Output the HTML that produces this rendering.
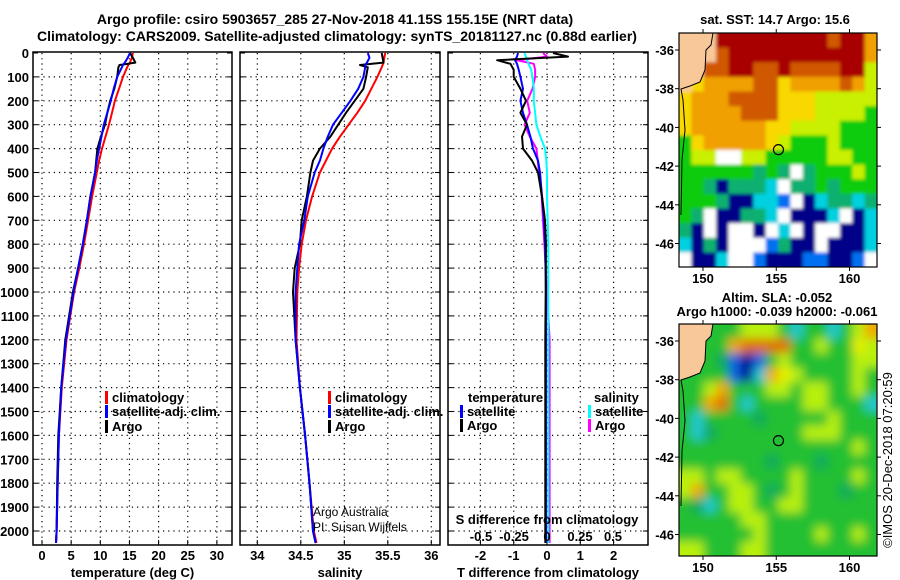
<!DOCTYPE html>
<html><head><meta charset="utf-8"><style>
html,body{margin:0;padding:0;background:#fff;width:900px;height:580px;overflow:hidden}
svg{display:block;font-family:"Liberation Sans",Arial,sans-serif}
.b{font-weight:bold;font-size:13px}
.t{font-weight:bold;font-size:14px}
</style></head><body>
<svg id="chart" width="900" height="580" viewBox="0 0 900 580" xmlns="http://www.w3.org/2000/svg">
<defs>
<filter id="blur" x="-5%" y="-5%" width="110%" height="110%"><feGaussianBlur stdDeviation="5"/></filter>
<filter id="blur2" x="-5%" y="-5%" width="110%" height="110%"><feGaussianBlur stdDeviation="1.5"/></filter>
<clipPath id="clipTop"><rect x="679" y="33" width="198" height="234"/></clipPath>
<clipPath id="clipBot"><rect x="679" y="324" width="198" height="232"/></clipPath>
</defs>
<text class="t" x="335" y="24" text-anchor="middle">Argo profile: csiro 5903657_285 27-Nov-2018 41.15S 155.15E (NRT data)</text>
<text class="t" x="337" y="41" text-anchor="middle">Climatology: CARS2009. Satellite-adjusted climatology: synTS_20181127.nc (0.88d earlier)</text>
<g id="g"></g>
</svg>
<script>
const depths = [0,20,40,50,60,100,150,200,250,300,350,400,450,500,600,700,800,900,1000,1200,1400,1600,1800,2000,2050];
const tClim = [15.6,15.4,15.1,14.8,14.6,13.9,13.2,12.5,12.0,11.5,10.9,10.3,9.8,9.4,8.6,7.9,7.2,6.4,5.5,4.2,3.4,2.9,2.7,2.5,2.4];
const tSat = [15.1,14.7,14.2,13.9,13.7,12.9,12.3,11.8,11.2,10.6,10.2,9.8,9.4,9.1,8.3,7.7,7.0,6.2,5.4,4.1,3.3,2.9,2.7,2.5,2.4];
const tArgo = [15.1,15.6,16.0,13.3,13.1,12.9,12.4,11.7,11.2,10.8,10.1,9.5,9.3,9.1,8.3,7.7,7.0,6.2,5.3,4.0,3.3,2.8,2.6,2.5,2.4];
const sClim = [35.47,35.46,35.45,35.44,35.43,35.38,35.31,35.24,35.15,35.05,34.95,34.86,34.79,34.72,34.63,34.56,34.51,34.48,34.46,34.45,34.49,34.55,34.6,34.65,34.68];
const sSat = [35.27,35.29,35.26,35.24,35.24,35.22,35.16,35.07,34.97,34.87,34.81,34.76,34.72,34.66,34.58,34.54,34.48,34.46,34.44,34.44,34.49,34.55,34.6,34.64,34.67];
const sArgo = [35.43,35.44,35.45,35.18,35.27,35.25,35.22,35.12,35.02,34.93,34.84,34.72,34.64,34.61,34.57,34.51,34.49,34.43,34.41,34.44,34.49,34.55,34.6,34.64,34.67];
const dDepth = [0,15,30,45,70,100,150,200,250,300,350,400,450,500,550,600,700,800,1000,1200,1600,2050];
const tdArgo = [0.18,0.63,-1.5,-1.1,-1.0,-1.0,-0.8,-0.63,-0.8,-0.6,-0.75,-0.72,-0.45,-0.27,-0.21,-0.15,-0.06,-0.03,-0.04,-0.05,-0.05,-0.05];
const tdSat = [-0.87,-0.9,-0.96,-0.9,-0.85,-0.8,-0.72,-0.8,-0.72,-0.6,-0.5,-0.42,-0.27,-0.21,-0.18,-0.15,-0.09,-0.06,-0.03,-0.03,-0.03,-0.03];
const sdArgo = [-0.03,0.0,-0.23,-0.1,-0.09,-0.09,-0.11,-0.15,-0.13,-0.17,-0.13,-0.08,-0.07,-0.06,-0.05,-0.04,-0.03,-0.02,0.0,0.02,0.02,0.02];
const sdSat = [-0.17,-0.16,-0.15,-0.14,-0.12,-0.11,-0.1,-0.1,-0.09,-0.08,-0.05,-0.015,-0.005,0,0,0,0.005,0.01,0.01,0.01,0.01,0.01];
const depthTicks = [0,100,200,300,400,500,600,700,800,900,1000,1100,1200,1300,1400,1500,1600,1700,1800,1900,2000];
const tTicks = [0,5,10,15,20,25,30];
const sTicks = [34,34.5,35,35.5,36];
const tdTicks = [-2,-1,0,1,2];
const sdTicks = [-0.5,-0.25,0,0.25,0.5];
const sdTickLabels = ['-0.5','-0.25','0','0.25','0.5'];
const latTicks = [-36,-38,-40,-42,-44,-46];
const lonTicks = [150,155,160];
const sstGrid = ["LLLRRRRRRRRRORRo","LLLORRRRRRRRRRRo","LLOORROOROOOORRy","LYooooOOYooooOoy","YoooOOOOYYYyyyyy","YooooOOOYYYyyyyG","YooooooYYyyyyGGG","GYoooooYyGGGyGGG","GyyWWyyGGGGGyyGG","GGGGGGgGgWgGGGyG","GGgNgggcWggGgGGG","GGGgNNccbWNcggcg","GgWNNggcWNNNcWNc","gNWNWWNWcWNWWNNc","cNgNWWWbgNNWNNNc","WNNcWWbNNNbbNNbW"];
const slaGrid = ["LLLGGyyyGcGGcGyo","LLLGoOOOOGGyGGYy","LLGgbNbGyGGGGGyy","LGGGbNcoYyGGGGyG","GGyoGGGyyGyyGGyG","GGoOGcGGGGyyGGGc","GcGGGGgGGGGGyGGG","GcgGGGGGGGyyyGGG","GGGGGGGGGGGGGGyG","GGGGGGGgGGGgGGGG","yyGyyGGGGyGGGGyG","yoGGyyGgGyGGGgGG","GgcGyyGGyyGGGGGG","GGGGGyyGGGGGGGGG","GGGGGGyGGGGyGGyG","yyGGGyyGGGGGGGGG"];
const argoLon = 155.15, argoLat = -41.15;

const NS='http://www.w3.org/2000/svg';
const G=document.getElementById('g');
function el(tag,attrs,parent){const e=document.createElementNS(NS,tag);for(const k in attrs)e.setAttribute(k,attrs[k]);(parent||G).appendChild(e);return e;}
function txt(x,y,s,cls,anchor,parent){const e=el('text',{x:x,y:y,'text-anchor':anchor||'middle'},parent);if(cls)e.setAttribute('class',cls);e.textContent=s;return e;}

const TOP=53, BOT=545;
const yD=d=>TOP+d*0.239;
const panels=[
 {x0:33,x1:232,sx:v=>42+v*5.83,ticks:tTicks,labels:tTicks.map(String),title:'temperature (deg C)',name:'temperature-panel'},
 {x0:240,x1:440,sx:v=>257.3+(v-34)*87,ticks:sTicks,labels:['34','34.5','35','35.5','36'],title:'salinity',name:'salinity-panel'},
 {x0:448,x1:648,sx:v=>547+v*33.3,ticks:tdTicks,labels:tdTicks.map(String),title:'T difference from climatology',name:'difference-panel'}
];
const sdx=v=>547+v*132;
panels.forEach((p,pi)=>{
  const g=el('g',{});
  
  
  depthTicks.forEach(d=>{
    const y=yD(d);
    if(d>0) el('line',{x1:p.x0,x2:p.x1,y1:y,y2:y,stroke:'#000','stroke-dasharray':'1.2,4','stroke-width':1.2},g);
    el('line',{x1:p.x0,x2:p.x0+5,y1:y,y2:y,stroke:'#000'},g);
    el('line',{x1:p.x1,x2:p.x1-5,y1:y,y2:y,stroke:'#000'},g);
    if(pi===0){const t=txt(29,y+5,String(d),'b','end',g);}
  });
  p.ticks.forEach((v,i)=>{
    const x=p.sx(v);
    el('line',{x1:x,x2:x,y1:TOP,y2:BOT,stroke:'#000','stroke-dasharray':'1.2,4','stroke-width':1.2},g);
    el('line',{x1:x,x2:x,y1:BOT,y2:BOT-5,stroke:'#000'},g);
    const t=txt(x,560,p.labels[i],'b','middle',g);
    
    
  });
  el('rect',{x:p.x0,y:TOP-1,width:p.x1-p.x0,height:BOT-TOP+1,fill:'none',stroke:'#000','stroke-width':1.5},g);
  const tt=txt((p.x0+p.x1)/2,577,p.title,'b','middle',g);
  
  
});
function line(xs,ds,sx,color,name,w){
  const pts=xs.map((v,i)=>sx(v).toFixed(1)+','+yD(ds[i]).toFixed(1)).join(' ');
  const e=el('polyline',{points:pts,fill:'none',stroke:color,'stroke-width':w||2,'stroke-linejoin':'round'});
  
  
}
line(tClim,depths,panels[0].sx,'#f00','temperature-climatology-line');
line(tArgo,depths,panels[0].sx,'#000','temperature-argo-line');
line(tSat,depths,panels[0].sx,'#00f','temperature-satellite-line');
line(sClim,depths,panels[1].sx,'#f00','salinity-climatology-line');
line(sArgo,depths,panels[1].sx,'#000','salinity-argo-line');
line(sSat,depths,panels[1].sx,'#00f','salinity-satellite-line');
line(sdArgo,dDepth,sdx,'#f0f','s-diff-argo-line');
line(sdSat,dDepth,sdx,'#0ff','s-diff-satellite-line');
line(tdSat,dDepth,panels[2].sx,'#00f','t-diff-satellite-line');
line(tdArgo,dDepth,panels[2].sx,'#000','t-diff-argo-line');

function legend(x,y,color,label,name){
  const g=el('g',{});
  
  
  el('rect',{x:x,y:y-11,width:3,height:13,fill:color},g);
  txt(x+7,y,label,'b','start',g);
}
legend(105,402,'#f00','climatology','legend-climatology');
legend(105,416,'#00f','satellite-adj. clim.','legend-satellite');
legend(105,431,'#000','Argo','legend-argo');
legend(328,402,'#f00','climatology','legend-climatology-salinity');
legend(328,416,'#00f','satellite-adj. clim.','legend-satellite-salinity');
legend(328,431,'#000','Argo','legend-argo-salinity');
txt(468,402,'temperature','b','start');
legend(460,416,'#00f','satellite','legend-t-satellite');
legend(460,430,'#000','Argo','legend-t-argo');
txt(594,402,'salinity','b','start');
legend(588,416,'#0ff','satellite','legend-s-satellite');
legend(588,430,'#f0f','Argo','legend-s-argo');
let c1=txt(313,516,'Argo Australia',null,'start');c1.setAttribute('font-size','12');
let c2=txt(313,531,'PI: Susan Wijffels',null,'start');c2.setAttribute('font-size','12');
txt(547,524,'S difference from climatology','b','middle');
sdTicks.forEach((v,i)=>{const t=txt(sdx(v),541,sdTickLabels[i],'b','middle');});

const COL={R:'#a80000',O:'#d05800',o:'#f0a000',Y:'#f8d800',y:'#c8f000',G:'#10cc10',g:'#10b070',c:'#00d0e0',b:'#0070f0',N:'#000088',W:'#ffffff',L:'#f8c898'};
const COL2={G:'#20c030',g:'#10a860',y:'#b8f010',Y:'#e8f000',o:'#f0a800',O:'#e07000',c:'#20c8d0',b:'#1060e0',N:'#000090',L:'#20c030'};
function map(top,bot,grid,cols,name,latY0,filt,clip){
  const x0=679,x1=877;
  const lonX=v=>703+(v-150)*14.65;
  const latY=v=>latY0+(-36-v)*19.35;
  const g=el('g',{});
  
  
  const cg=el('g',{'clip-path':'url(#'+clip+')'},g);
  const ig=el('g',{filter:'url(#'+filt+')'},cg);
  const nr=grid.length,nc=grid[0].length,cw=(x1-x0)/nc,ch=(bot-top)/nr;
  grid.forEach((row,r)=>{for(let c=0;c<nc;c++){const k=row[c];
    el('rect',{x:(x0+c*cw-(c===0?10:0)).toFixed(2),y:(top+r*ch-(r===0?10:0)).toFixed(2),width:(cw+0.6+(c===0||c===nc-1?10:0)).toFixed(2),height:(ch+0.6+(r===0||r===nr-1?10:0)).toFixed(2),fill:cols[k]},ig);}});
  const s=top-33;
  el('polygon',{points:`679,${top} 713,${top} 711,${45+s} 706,${50+s} 705,${70+s} 700,${82+s} 690,${86+s} 681,${89+s} 679,${89+s}`,fill:'#f8c898'},g);
  el('polyline',{points:`713,${top} 711,${45+s} 706,${50+s} 705,${70+s} 700,${82+s} 690,${86+s} 681,${89+s} 683,${100+s} 685,${130+s} 682,${160+s} 681,${215+s}`,fill:'none',stroke:'#000','stroke-width':1},g);
  const m=el('circle',{cx:lonX(argoLon),cy:latY(argoLat),r:5,fill:'none',stroke:'#000','stroke-width':1.2},g);
  
  
  el('rect',{x:x0,y:top,width:x1-x0,height:bot-top,fill:'none',stroke:'#000','stroke-width':1.2},g);
  latTicks.forEach(v=>{const y=latY(v);el('line',{x1:x0-4,x2:x0,y1:y,y2:y,stroke:'#000'},g);el('line',{x1:x1,x2:x1+4,y1:y,y2:y,stroke:'#000'},g);
    const t=txt(674,y+5,String(v),'b','end',g);});
  lonTicks.forEach(v=>{const x=lonX(v);el('line',{x1:x,x2:x,y1:bot,y2:bot+4,stroke:'#000'},g);el('line',{x1:x,x2:x,y1:top,y2:top-4,stroke:'#000'},g);
    const t=txt(x,bot+16,String(v),'b','middle',g);});
}
map(33,267,sstGrid,COL,'sst-map',50,'blur2','clipTop');
map(324,556,slaGrid,COL2,'sla-map',341,'blur','clipBot');
txt(775,24,'sat. SST: 14.7 Argo: 15.6','b','middle');
txt(777,302,'Altim. SLA: -0.052','b','middle');
txt(777,316,'Argo h1000: -0.039 h2000: -0.061','b','middle');
const cr=txt(0,0,'©IMOS 20-Dec-2018 07:20:59',null,'middle');
cr.setAttribute('font-size','13');
cr.setAttribute('transform','translate(892,460) rotate(-90)');

</script>
</body></html>
